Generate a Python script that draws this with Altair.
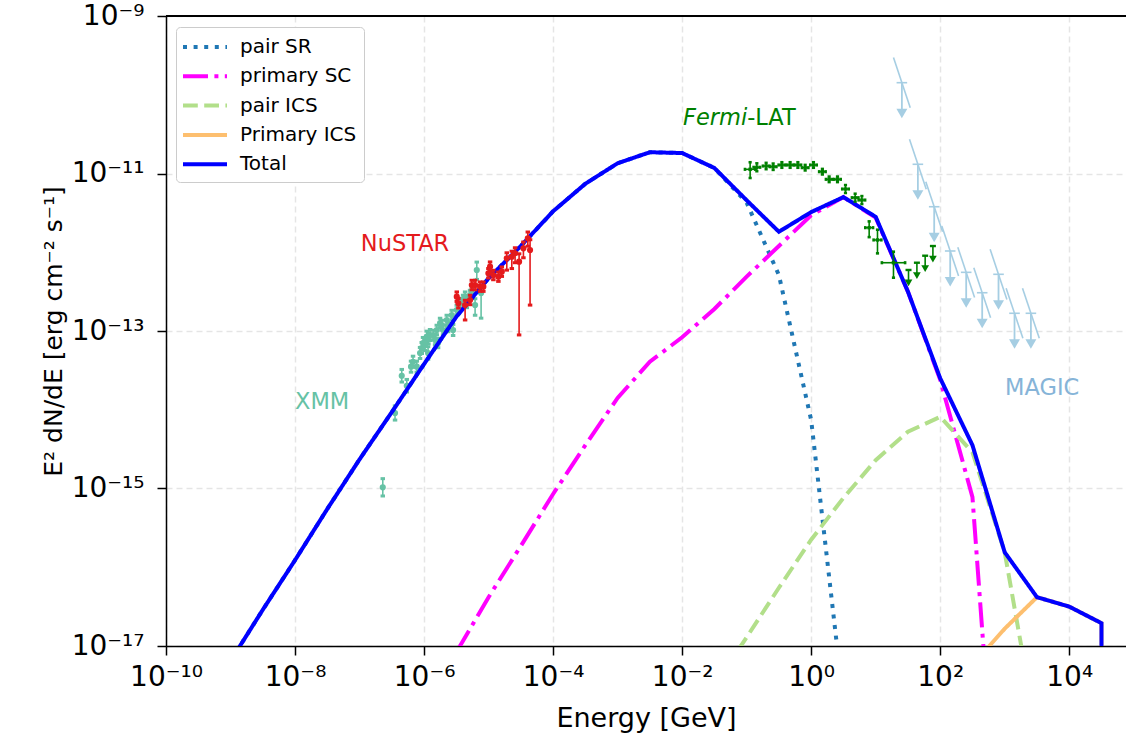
import altair as alt
import pandas as pd

# ---------------- model curves: log10(E/GeV) and log10(E^2 dN/dE) ----------------
total_logE = [-9.0, -8.5, -8.0, -7.5, -7.0, -6.5, -6.0, -5.5, -5.0, -4.5, -4.0, -3.5, -3.0, -2.5,
              -2.0, -1.5, -1.0, -0.5, 0.0, 0.5, 1.0, 1.5, 2.0, 2.5, 3.0, 3.5, 4.0, 4.5, 4.5]
total_logF = [-17.19, -16.54, -15.91, -15.26, -14.63, -14.03, -13.42, -12.82, -12.33, -11.92, -11.48,
              -11.13, -10.87, -10.73, -10.74, -10.93, -11.34, -11.74, -11.49, -11.30, -11.55, -12.50,
              -13.60, -14.45, -15.81, -16.38, -16.50, -16.71, -30.0]

sr_logE = [-9.0, -8.5, -8.0, -7.5, -7.0, -6.5, -6.0, -5.5, -5.0, -4.5, -4.0, -3.5, -3.0, -2.5,
           -2.0, -1.5, -1.0, -0.5, 0.0, 0.5]
sr_logF = [-17.19, -16.54, -15.91, -15.26, -14.63, -14.03, -13.42, -12.82, -12.33, -11.92, -11.48,
           -11.13, -10.87, -10.73, -10.74, -10.93, -11.37, -12.29, -14.13, -17.71]

sc_logE = [-5.5, -5.0, -4.5, -4.0, -3.5, -3.0, -2.5, -2.0, -1.5, -1.0, -0.5, 0.0, 0.5, 1.0, 1.5,
           2.0, 2.5, 3.0]
sc_logF = [-17.08, -16.38, -15.73, -15.07, -14.45, -13.85, -13.39, -13.08, -12.72, -12.31, -11.92,
           -11.53, -11.30, -11.56, -12.50, -13.62, -15.11, -20.7]

ics_logE = [-1.5, -1.0, -0.5, 0.0, 0.5, 1.0, 1.5, 2.0, 2.5, 3.0, 3.5]
ics_logF = [-17.5, -16.89, -16.26, -15.65, -15.12, -14.64, -14.28, -14.09, -14.54, -15.81, -18.13]

pics_logE = [2.5, 3.0, 3.5, 4.0, 4.5, 4.5]
pics_logF = [-17.24, -16.78, -16.38, -16.50, -16.71, -30.0]

comp_names = ["pair SR", "primary SC", "pair ICS", "Primary ICS", "Total"]
comp_colors = ["#1f77b4", "#ff00ff", "#b2df8a", "#fdbf6f", "#0000ff"]
comp_dashes = [[4, 6.6], [25, 6.4, 4, 6.4], [14.8, 6.4], [1, 0], [1, 0]]
comp_widths = [4, 4, 4, 3, 4.5]

# ---------------- XMM (log10 E, log10 F, err down, err up in dex) ----------------
xmm_logE = [-6.640, -6.450, -6.346, -6.268, -6.202, -6.171, -6.113, -6.062, -6.036, -6.016, -5.984,
            -5.958, -5.933, -5.907, -5.938, -5.856, -5.829, -5.803, -5.783, -5.752, -5.726, -5.705,
            -5.648, -5.628, -5.571, -5.550, -5.493, -5.442, -5.395, -5.364, -5.338, -5.287, -5.260,
            -5.209, -5.183, -5.116]
xmm_logF = [-14.985, -14.041, -13.568, -13.695, -13.453, -13.390, -13.453, -13.279, -13.216, -13.152,
            -13.178, -13.072, -13.093, -13.051, -13.279, -13.051, -13.114, -12.987, -13.152, -12.898,
            -12.924, -12.987, -12.860, -12.949, -12.797, -12.987, -12.733, -12.644, -12.606, -12.564,
            -12.644, -12.543, -12.501, -12.670, -12.225, -12.517]
xmm_errlo = [0.11, 0.09, 0.08, 0.08, 0.07, 0.07, 0.07, 0.07, 0.07, 0.07, 0.07, 0.07, 0.07, 0.07, 0.08,
             0.06, 0.06, 0.06, 0.06, 0.06, 0.06, 0.06, 0.06, 0.06, 0.06, 0.07, 0.06, 0.06, 0.06, 0.06,
             0.06, 0.06, 0.06, 0.13, 0.12, 0.32]
xmm_errhi = [0.11, 0.09, 0.08, 0.08, 0.07, 0.07, 0.07, 0.07, 0.07, 0.07, 0.07, 0.07, 0.07, 0.07, 0.08,
             0.06, 0.06, 0.06, 0.06, 0.06, 0.06, 0.06, 0.06, 0.06, 0.06, 0.07, 0.06, 0.06, 0.06, 0.06,
             0.06, 0.06, 0.06, 0.08, 0.10, 0.08]

# ---------------- NuSTAR ----------------
nu_logE = [-5.493, -5.468, -5.364, -5.287, -5.260, -5.209, -5.132, -5.081, -5.003, -4.977, -4.926,
           -4.848, -4.795, -4.718, -4.640, -4.589, -4.527, -4.460, -4.392, -4.357]
nu_logF = [-12.564, -12.648, -12.670, -12.606, -12.416, -12.416, -12.437, -12.437, -12.267, -12.183,
           -12.289, -12.310, -12.247, -12.077, -12.057, -12.013, -12.120, -11.950, -11.823, -11.971]
nu_errlo = [0.06, 0.06, 0.19, 0.06, 0.06, 0.06, 0.06, 0.06, 0.06, 0.06, 0.06, 0.06, 0.06, 0.15, 0.15,
            0.12, 0.93, 0.12, 0.10, 0.70]
nu_errhi = [0.06, 0.06, 0.06, 0.06, 0.06, 0.06, 0.06, 0.06, 0.06, 0.06, 0.06, 0.06, 0.06, 0.07, 0.07,
            0.07, 0.10, 0.08, 0.08, 0.13]

# ---------------- Fermi-LAT ----------------
lat_logE = [-0.946, -0.842, -0.698, -0.589, -0.454, -0.326, -0.206, -0.093, 0.036, 0.174, 0.279,
            0.408, 0.532, 0.682, 0.786, 0.899, 1.028, 1.276]
lat_logF = [-10.947, -10.921, -10.905, -10.914, -10.892, -10.892, -10.892, -10.926, -10.892, -10.977,
            -11.074, -11.074, -11.197, -11.307, -11.337, -11.688, -11.844, -12.133]
lat_xerr = [0.08, 0.05, 0.05, 0.05, 0.05, 0.05, 0.05, 0.05, 0.05, 0.05, 0.05, 0.05, 0.05, 0.05, 0.05,
            0.06, 0.06, 0.18]
lat_errlo = [0.11, 0.05, 0.04, 0.04, 0.035, 0.035, 0.035, 0.035, 0.035, 0.035, 0.035, 0.035, 0.05,
             0.05, 0.05, 0.12, 0.17, 0.19]
lat_errhi = [0.09, 0.05, 0.04, 0.04, 0.035, 0.035, 0.035, 0.035, 0.035, 0.035, 0.035, 0.035, 0.05,
             0.05, 0.05, 0.08, 0.13, 0.14]
lat_ul_logE = [1.509, 1.639, 1.767, 1.887]
lat_ul_logF = [-12.225, -12.133, -12.044, -11.921]

# ---------------- MAGIC upper limits ----------------
magic_logE = [1.406, 1.654, 1.907, 2.155, 2.403, 2.651, 2.904, 3.152, 3.406]
magic_logF = [-9.847, -10.883, -11.422, -11.984, -12.255, -12.514, -12.280, -12.775, -12.775]
magic_binhalf = 0.082      # half bin width, dex
magic_slope = -2.45        # slope of the butterfly segments (dex/dex)
magic_seghalf = 0.13       # half length of segments in log E

x_ticks = [-10, -8, -6, -4, -2, 0, 2, 4]
y_ticks = [-17, -15, -13, -11, -9]

# ======================================================================
def p(v):
    return 10.0 ** v

rows = []
for name, le, lf in [("pair SR", sr_logE, sr_logF), ("primary SC", sc_logE, sc_logF),
                     ("pair ICS", ics_logE, ics_logF), ("Primary ICS", pics_logE, pics_logF)]:
    for i, (a, b) in enumerate(zip(le, lf)):
        rows.append({"comp": name, "E": p(a), "F": p(b), "idx": i})
comp_df = pd.DataFrame(rows)
total_df = pd.DataFrame({"comp": "Total", "E": [p(a) for a in total_logE],
                         "F": [p(b) for b in total_logF], "idx": list(range(len(total_logE)))})

def err_df(le, lf, lo, hi):
    return pd.DataFrame({"E": [p(a) for a in le], "F": [p(b) for b in lf],
                         "Flo": [p(b - d) for b, d in zip(lf, lo)],
                         "Fhi": [p(b + d) for b, d in zip(lf, hi)]})

xmm_df = err_df(xmm_logE, xmm_logF, xmm_errlo, xmm_errhi)
nu_df = err_df(nu_logE, nu_logF, nu_errlo, nu_errhi)
lat_df = err_df(lat_logE, lat_logF, lat_errlo, lat_errhi)
lat_df["Elo"] = [p(a - d) for a, d in zip(lat_logE, lat_xerr)]
lat_df["Ehi"] = [p(a + d) for a, d in zip(lat_logE, lat_xerr)]
ul_df = pd.DataFrame({"E": [p(a) for a in lat_ul_logE], "F": [p(b) for b in lat_ul_logF],
                      "Fend": [p(b - 0.165) for b in lat_ul_logF]})
mg_df = pd.DataFrame({
    "E": [p(a) for a in magic_logE], "F": [p(b) for b in magic_logF],
    "Elo": [p(a - magic_binhalf) for a in magic_logE], "Ehi": [p(a + magic_binhalf) for a in magic_logE],
    "Fend": [p(b - 0.39) for b in magic_logF],
    "E1": [p(a - magic_seghalf) for a in magic_logE], "E2": [p(a + magic_seghalf) for a in magic_logE],
    "F1": [p(b - magic_slope * magic_seghalf) for b in magic_logF],
    "F2": [p(b + magic_slope * magic_seghalf) for b in magic_logF],
})

sup = str.maketrans("-0123456789", "⁻⁰¹²³⁴⁵⁶⁷⁸⁹")

def label_expr(exps):
    expr = "'10" + str(exps[-1]).translate(sup) + "'"
    for e in reversed(exps[:-1]):
        expr = f"datum.value < {10.0 ** (e + 1):g} ? '10{str(e).translate(sup)}' : ({expr})"
    return expr

FONT = "DejaVu Sans"
common_axis = dict(grid=True, gridDash=[6, 4], gridColor="#e5e5e5", gridWidth=1.5,
                   tickSize=9, tickWidth=1.5, tickColor="black", domainColor="black",
                   domainWidth=1.5, labelFont=FONT, titleFont=FONT, labelColor="black",
                   titleColor="black", titleFontWeight="normal", labelFontSize=28,
                   labelFlush=False, labelOverlap=False)

x_scale = alt.Scale(type="log", domain=[1e-10, p(4.88)], nice=False)
y_scale = alt.Scale(type="log", domain=[1e-17, 1e-9], nice=False)

X = alt.X("E:Q", scale=x_scale,
          axis=alt.Axis(values=[p(e) for e in x_ticks], labelExpr=label_expr(x_ticks),
                        title="Energy [GeV]", labelPadding=8, titlePadding=14, titleFontSize=27,
                        **common_axis))
Y = alt.Y("F:Q", scale=y_scale,
          axis=alt.Axis(values=[p(e) for e in y_ticks], labelExpr=label_expr(y_ticks),
                        title="E² dN/dE [erg cm⁻² s⁻¹]", labelPadding=13, titlePadding=5,
                        titleFontSize=25, **common_axis))

leg = alt.Legend(title=None, orient="none", legendX=10, legendY=11, symbolType="M-2,0H2",
                 symbolSize=484, labelFontSize=20, labelFont=FONT, labelColor="black",
                 fillColor="white", strokeColor="#cccccc", padding=7, cornerRadius=4,
                 rowPadding=6.3, symbolOffset=9, labelOffset=22)

line_enc = dict(
    x=X, y=Y, order=alt.Order("idx:Q"),
    color=alt.Color("comp:N", scale=alt.Scale(domain=comp_names, range=comp_colors), legend=leg),
    strokeDash=alt.StrokeDash("comp:N", scale=alt.Scale(domain=comp_names, range=comp_dashes), legend=leg),
    strokeWidth=alt.StrokeWidth("comp:N", scale=alt.Scale(domain=comp_names, range=comp_widths), legend=leg),
)

comp_lines = alt.Chart(comp_df).mark_line(clip=True, strokeCap="butt").encode(
    detail="comp:N", **line_enc)
total_line = alt.Chart(total_df).mark_line(clip=True, strokeJoin="miter").encode(**line_enc)

E = alt.X("E:Q", scale=x_scale)
F = alt.Y("F:Q", scale=y_scale)

def point_set(df, color):
    base = alt.Chart(df)
    bars = base.mark_rule(color=color, strokeWidth=1.6).encode(x=E, y=alt.Y("Flo:Q", scale=y_scale), y2="Fhi:Q")
    cap_lo = base.mark_point(shape="stroke", size=20, color=color, strokeWidth=3, filled=False, opacity=1).encode(
        x=E, y=alt.Y("Flo:Q", scale=y_scale))
    cap_hi = base.mark_point(shape="stroke", size=20, color=color, strokeWidth=3, filled=False, opacity=1).encode(
        x=E, y=alt.Y("Fhi:Q", scale=y_scale))
    dots = base.mark_circle(size=38, color=color, opacity=1).encode(x=E, y=F)
    return [bars, cap_lo, cap_hi, dots]

xmm_layers = point_set(xmm_df, "#66c2a5")
nu_layers = point_set(nu_df, "#e41a1c")

G = "#008000"
lat_base = alt.Chart(lat_df)
lat_layers = [
    lat_base.mark_rule(color=G, strokeWidth=1.6).encode(x=E, y=alt.Y("Flo:Q", scale=y_scale), y2="Fhi:Q"),
    lat_base.mark_rule(color=G, strokeWidth=1.6).encode(x=alt.X("Elo:Q", scale=x_scale), x2="Ehi:Q", y=F),
    lat_base.mark_point(shape="stroke", size=10, color=G, strokeWidth=2.6, opacity=1).encode(
        x=E, y=alt.Y("Flo:Q", scale=y_scale)),
    lat_base.mark_point(shape="stroke", size=10, color=G, strokeWidth=2.6, opacity=1).encode(
        x=E, y=alt.Y("Fhi:Q", scale=y_scale)),
    lat_base.mark_point(shape="M0,-1V1", size=10, color=G, strokeWidth=2.6, opacity=1).encode(
        x=alt.X("Elo:Q", scale=x_scale), y=F),
    lat_base.mark_point(shape="M0,-1V1", size=10, color=G, strokeWidth=2.6, opacity=1).encode(
        x=alt.X("Ehi:Q", scale=x_scale), y=F),
    lat_base.mark_square(size=12, color=G, opacity=1).encode(x=E, y=F),
]
ul_base = alt.Chart(ul_df)
ul_layers = [
    ul_base.mark_rule(color=G, strokeWidth=1.6).encode(x=E, y=F, y2="Fend:Q"),
    ul_base.mark_point(shape="stroke", size=36, color=G, strokeWidth=2.4, opacity=1).encode(x=E, y=F),
    ul_base.mark_point(shape="triangle-down", size=60, color=G, filled=True, opacity=1).encode(
        x=E, y=alt.Y("Fend:Q", scale=y_scale)),
]

M = "#a6cee3"
mg_base = alt.Chart(mg_df)
mg_layers = [
    mg_base.mark_rule(color=M, strokeWidth=1.6).encode(x=alt.X("E1:Q", scale=x_scale), x2="E2:Q",
                                                       y=alt.Y("F1:Q", scale=y_scale), y2="F2:Q"),
    mg_base.mark_rule(color=M, strokeWidth=1.6).encode(x=alt.X("Elo:Q", scale=x_scale), x2="Ehi:Q", y=F),
    mg_base.mark_rule(color=M, strokeWidth=1.8).encode(x=E, y=F, y2="Fend:Q"),
    mg_base.mark_point(shape="triangle-down", size=120, color=M, filled=True, opacity=1).encode(
        x=E, y=alt.Y("Fend:Q", scale=y_scale)),
]

# annotation labels (position in data units)
lab_df = pd.DataFrame({
    "text": ["XMM", "NuSTAR", "MAGIC"],
    "E": [p(-7.58), p(-6.295), p(3.58)],
    "F": [p(-13.90), p(-11.895), p(-13.724)],
    "col": ["#66c2a5", "#e41a1c", "#86b4d8"],
})
labels = alt.Chart(lab_df).mark_text(font=FONT, fontSize=22.5, align="center", baseline="middle").encode(
    x=E, y=F, text="text:N", color=alt.Color("col:N", scale=None))
fermi_df = pd.DataFrame({"E": [p(-0.992)], "F": [p(-10.29)]})
fermi_it = alt.Chart(fermi_df).mark_text(font=FONT, fontSize=22.5, fontStyle="italic", align="right",
                                         baseline="middle", color=G, text="Fermi").encode(x=E, y=F)
fermi_rest = alt.Chart(fermi_df).mark_text(font=FONT, fontSize=22.5, align="left", baseline="middle",
                                           color=G, text="-LAT").encode(x=E, y=F)

top_rule = alt.Chart(total_df).mark_rule(color="black", strokeWidth=1.5).encode(
    x=alt.value(0), x2=alt.value(960), y=alt.value(0))

chart = alt.layer(
    *xmm_layers, comp_lines, total_line, *nu_layers, *lat_layers, *ul_layers, *mg_layers,
    labels, fermi_it, fermi_rest, top_rule
).resolve_scale(color="shared").properties(
    width=960, height=630,
    padding={"left": 166, "top": 16, "right": 0, "bottom": 99},
    autosize=alt.AutoSizeParams(type="none"),
).configure_view(stroke=None).configure(background="white")

chart.save("out.html", embed_options={"renderer": "svg", "actions": False})
